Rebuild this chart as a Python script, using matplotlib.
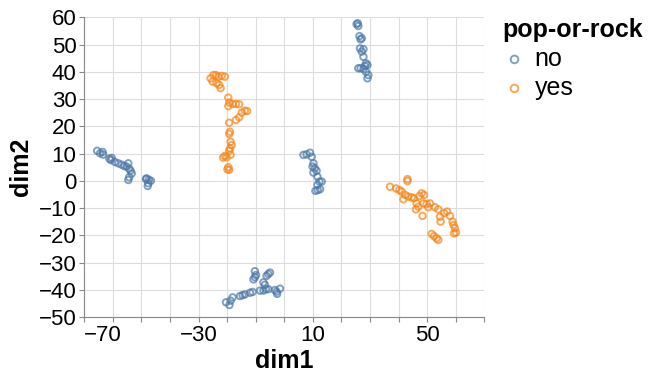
import matplotlib
matplotlib.use("Agg")
import matplotlib.pyplot as plt

plt.rcParams['font.family'] = ['Liberation Sans', 'DejaVu Sans']

# points, grouped by the pop-or-rock field
no_dim1 = [-65.5, -64.5, -63.6, -63.4, -61.2, -60.7, -60.4, -59.3, -58.1, -56.9, -56.0, -55.2,
           -54.6, -54.3, -53.8, -53.4, -54.3, -54.6, -48.2, -47.4, -46.7, -47.6, -47.8, -48.4,
           25.7, 25.9, 25.3, 26.3, 26.7, 27.1, 26.5, 27.7, 27.1, 27.7, 28.6, 28.2, 29.1, 25.9,
           26.7, 27.7, 28.6, 29.4, 29.1,
           6.7, 7.8, 9.0, 9.6, 10.2, 9.9, 10.7, 11.3, 10.2, 11.6, 12.3, 13.1, 11.6, 12.5, 10.9, 11.7,
           -20.4, -19.2, -18.8, -18.1, -15.5, -14.6, -13.8, -12.0, -11.1, -8.5, -7.3, -6.4, -5.6,
           -10.3, -9.9, -10.8, -10.3, -7.3, -6.8, -5.6, -5.0, -6.2, -3.3, -2.5, -1.5, -2.7]
no_dim2 = [11.0, 10.1, 10.6, 9.6, 8.1, 7.6, 8.4, 6.9, 6.4, 5.9, 5.4, 5.2,
           6.4, 4.4, 3.7, 2.7, 1.3, 0.3, 0.9, 0.3, 0.0, -0.9, -1.9, 0.6,
           57.8, 56.8, 57.5, 53.1, 51.9, 52.3, 48.6, 48.3, 47.4, 45.5, 43.1, 42.1, 42.5, 41.3,
           41.3, 41.0, 40.0, 38.8, 37.6,
           9.5, 9.7, 10.3, 8.8, 6.4, 5.2, 4.6, 3.7, 3.0, 1.5, -0.3, -0.3, -1.5, -3.1, -3.7, -3.4,
           -44.6, -45.6, -44.0, -42.8, -42.3, -42.0, -41.7, -41.1, -40.8, -40.3, -40.3, -39.8, -39.8,
           -33.2, -34.6, -36.2, -35.4, -37.3, -38.2, -34.2, -33.7, -34.9, -40.1, -41.5, -39.6, -40.7]

yes_dim1 = [-25.8, -24.8, -23.9, -23.1, -21.9, -20.8, -25.1, -23.7, -22.8, -22.3, -19.6, -19.3,
            -19.6, -18.1, -16.9, -15.8, -14.9, -13.8, -13.0, -15.8, -16.9, -19.3, -19.0, -19.3,
            -18.8, -18.4, -19.0, -19.3, -20.8, -21.4, -20.2, -18.8, -19.6, -19.9, -19.3,
            43.1, 43.1, 37.0, 39.1, 40.3, 41.1, 41.7, 42.3, 43.4, 44.6, 45.4, 47.3, 48.1, 48.9,
            46.3, 46.9, 46.1, 48.4, 48.7, 49.8, 51.0, 50.4, 52.7, 53.9, 54.5, 54.7, 55.9, 57.0,
            58.0, 58.9, 59.2, 59.7, 60.1, 59.4, 51.6, 52.4, 53.9, 53.3]
yes_dim2 = [37.6, 38.8, 38.8, 38.2, 38.5, 38.2, 36.4, 35.8, 35.2, 34.0, 30.5, 28.7,
            27.4, 28.2, 28.2, 28.1, 25.0, 25.7, 25.6, 23.3, 22.3, 21.3, 18.0, 17.2,
            14.3, 13.1, 11.9, 11.0, 9.1, 8.5, 8.6, 9.5, 5.0, 4.2, 4.0,
            0.6, -0.1, -2.2, -2.8, -3.4, -4.0, -6.8, -5.2, -5.8, -6.1, -6.4, -5.6, -4.6, -5.2,
            -8.3, -9.5, -10.5, -12.9, -8.3, -8.5, -8.3, -9.7, -9.7, -10.5, -13.2, -15.0, -11.9, -11.3,
            -12.9, -15.0, -16.2, -17.4, -19.0, -19.3, -19.5, -20.3, -21.7, -21.1]

x_ticks = list(range(-70, 71, 10))
x_labels = ['−70', '−30', '10', '50']
y_ticks = list(range(-50, 61, 10))

blue = '#4c78a8'
orange = '#f58518'

fig = plt.figure(figsize=(6.48, 3.83), dpi=100)
ax = fig.add_axes([84.3 / 648, 66 / 383, 400 / 648, 299.7 / 383])

ax.scatter(no_dim1, no_dim2, s=22, facecolors='none', edgecolors=blue, linewidths=1.4, alpha=0.7, label='no', zorder=3)
ax.scatter(yes_dim1, yes_dim2, s=22, facecolors='none', edgecolors=orange, linewidths=1.4, alpha=0.7, label='yes', zorder=3)

ax.set_xlim(-70, 70)
ax.set_ylim(-50, 60)
ax.set_xticks(x_ticks)
ax.set_xticklabels([str(t).replace('-', '−') if t in (-70, -30, 10, 50) else '' for t in x_ticks])
ax.set_yticks(y_ticks)
ax.set_yticklabels([str(t).replace('-', '−') for t in y_ticks])
ax.get_xticklabels()[0].set_horizontalalignment('left')

ax.grid(True, color='#dddddd', linewidth=0.8, zorder=0)
ax.set_axisbelow(True)
for side in ['top', 'right']:
    ax.spines[side].set_visible(False)
for side in ['left', 'bottom']:
    ax.spines[side].set_color('#888888')
    ax.spines[side].set_linewidth(0.8)
ax.tick_params(length=3.6, width=0.8, color='#888888', labelsize=16, pad=2)

ax.set_xlabel('dim1', fontsize=18, fontweight='bold', labelpad=2)
ax.set_ylabel('dim2', fontsize=18, fontweight='bold', labelpad=4)

leg = ax.legend(title='pop-or-rock', loc='upper left', bbox_to_anchor=(492 / 648, 1 - 8 / 383),
                bbox_transform=fig.transFigure, frameon=False, fontsize=18,
                title_fontproperties={'weight': 'bold', 'size': 18}, alignment='left',
                handletextpad=0.3, labelspacing=0.2, borderaxespad=0, handlelength=1.0)
for h in leg.legend_handles:
    h.set_sizes([30])

fig.savefig('out.png', dpi=100)
